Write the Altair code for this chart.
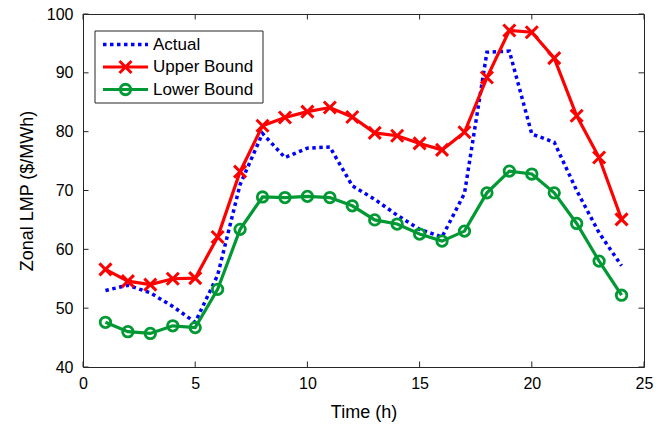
import altair as alt
import pandas as pd

hours = list(range(1, 25))
actual = [53.0, 53.9, 52.6, 50.3, 47.6, 55.6, 71.0, 79.7, 75.6, 77.2, 77.4, 70.8,
          68.5, 65.8, 63.4, 62.1, 69.5, 93.5, 93.7, 79.6, 78.2, 70.0, 62.8, 57.2]
upper = [56.6, 54.6, 54.0, 55.0, 55.1, 62.1, 73.2, 81.0, 82.4, 83.4, 84.1, 82.5,
         79.8, 79.3, 78.0, 76.9, 79.9, 89.2, 97.2, 96.9, 92.5, 82.7, 75.6, 65.1]
lower = [47.6, 46.0, 45.7, 47.0, 46.7, 53.2, 63.4, 68.9, 68.8, 69.0, 68.8, 67.4,
         65.0, 64.3, 62.6, 61.4, 63.1, 69.6, 73.3, 72.8, 69.6, 64.4, 58.0, 52.2]
series_names = ["Actual", "Upper Bound", "Lower Bound"]
series_colors = ["#0000FF", "#FF0000", "#009933"]
x_ticks = [0, 5, 10, 15, 20, 25]
y_ticks = [40, 50, 60, 70, 80, 90, 100]

rows = []
for name, vals in zip(series_names, [actual, upper, lower]):
    for h, v in zip(hours, vals):
        rows.append({"h": h, "value": v, "series": name})
df = pd.DataFrame(rows)

W, H = 561, 353
FONT = "Liberation Sans"
FRAME = "#262626"

xscale = alt.Scale(domain=[0, 25], nice=False, zero=False)
yscale = alt.Scale(domain=[40, 100], nice=False, zero=False)
cscale = alt.Scale(domain=series_names, range=series_colors)

xaxis = alt.Axis(values=x_ticks, title="Time (h)", grid=False, domain=False, ticks=False,
                 tickSize=0, labelPadding=8, titlePadding=12, labelFont=FONT, labelFontSize=16,
                 labelFlush=False, titleFont=FONT, titleFontSize=18, titleFontWeight="normal",
                 labelColor="black", titleColor="black")
yaxis = alt.Axis(values=y_ticks, title="Zonal LMP ($/MWh)", grid=False, domain=False, ticks=False,
                 tickSize=0, labelPadding=10, titlePadding=10, labelFont=FONT, labelFontSize=16,
                 labelFlush=False, titleFont=FONT, titleFontSize=18, titleFontWeight="normal",
                 labelColor="black", titleColor="black")

base = alt.Chart(df)

def line_layer(name, dash=None, width=3.2):
    kw = dict(strokeWidth=width)
    if dash:
        kw["strokeDash"] = dash
        kw["strokeCap"] = "butt"
    return base.transform_filter(alt.datum.series == name).mark_line(**kw).encode(
        x=alt.X("h:Q", scale=xscale, axis=xaxis),
        y=alt.Y("value:Q", scale=yscale, axis=yaxis),
        color=alt.Color("series:N", scale=cscale, legend=None),
    )

X_PATH = "M-1,-1L1,1M-1,1L1,-1"
DOT = [3.5, 3.5]

actual_line = line_layer("Actual", dash=DOT, width=3.5)
upper_line = line_layer("Upper Bound")
upper_pts = base.transform_filter(alt.datum.series == "Upper Bound").mark_point(
    shape=X_PATH, size=144, strokeWidth=3, filled=False, opacity=1).encode(
    x=alt.X("h:Q", scale=xscale), y=alt.Y("value:Q", scale=yscale),
    color=alt.Color("series:N", scale=cscale, legend=None))
lower_line = line_layer("Lower Bound")
lower_pts = base.transform_filter(alt.datum.series == "Lower Bound").mark_point(
    shape="circle", size=110, strokeWidth=2.8, filled=False, opacity=1).encode(
    x=alt.X("h:Q", scale=xscale), y=alt.Y("value:Q", scale=yscale),
    color=alt.Color("series:N", scale=cscale, legend=None))

# inward ticks on all four sides
tick_df_x = pd.DataFrame({"t": x_ticks})
tick_df_y = pd.DataFrame({"t": y_ticks})
TL = 5.5
xt_bottom = alt.Chart(tick_df_x).mark_rule(color=FRAME, strokeWidth=1).encode(
    x=alt.X("t:Q", scale=xscale), y=alt.value(H), y2=alt.value(H - TL))
xt_top = alt.Chart(tick_df_x).mark_rule(color=FRAME, strokeWidth=1).encode(
    x=alt.X("t:Q", scale=xscale), y=alt.value(0), y2=alt.value(TL))
yt_left = alt.Chart(tick_df_y).mark_rule(color=FRAME, strokeWidth=1).encode(
    y=alt.Y("t:Q", scale=yscale), x=alt.value(0), x2=alt.value(TL))
yt_right = alt.Chart(tick_df_y).mark_rule(color=FRAME, strokeWidth=1).encode(
    y=alt.Y("t:Q", scale=yscale), x=alt.value(W), x2=alt.value(W - TL))

# legend box (drawn with marks)
LX0, LX1, LY0, LY1 = 12, 180, 17, 89
ROWS_Y = [30.5, 53, 75.5]
SYM_X0, SYM_X1, SYM_C, TXT_X = 20, 65, 42.5, 70

one = pd.DataFrame({"k": [0]})
leg_box = alt.Chart(one).mark_rect(fill="white", stroke=FRAME, strokeWidth=1).encode(
    x=alt.value(LX0), x2=alt.value(LX1), y=alt.value(LY0), y2=alt.value(LY1))

leg_layers = [leg_box]
for i, (name, col) in enumerate(zip(series_names, series_colors)):
    ldf = pd.DataFrame({"label": [name]})
    kw = dict(color=col, strokeWidth=3.2)
    if name == "Actual":
        kw = dict(color=col, strokeWidth=3.5, strokeDash=DOT, strokeCap="butt")
    leg_layers.append(alt.Chart(ldf).mark_rule(**kw).encode(
        x=alt.value(SYM_X0), x2=alt.value(SYM_X1), y=alt.value(ROWS_Y[i])))
    if name == "Upper Bound":
        leg_layers.append(alt.Chart(ldf).mark_point(
            shape=X_PATH, size=144, strokeWidth=3, filled=False, color=col, opacity=1).encode(
            x=alt.value(SYM_C), y=alt.value(ROWS_Y[i])))
    if name == "Lower Bound":
        leg_layers.append(alt.Chart(ldf).mark_point(
            shape="circle", size=110, strokeWidth=2.8, filled=False, color=col, opacity=1).encode(
            x=alt.value(SYM_C), y=alt.value(ROWS_Y[i])))
    leg_layers.append(alt.Chart(ldf).mark_text(
        align="left", baseline="middle", font=FONT, fontSize=17, color="black").encode(
        text=alt.Text("label:N"), x=alt.value(TXT_X), y=alt.value(ROWS_Y[i])))

chart = alt.layer(
    actual_line, upper_line, upper_pts, lower_line, lower_pts,
    xt_bottom, xt_top, yt_left, yt_right, *leg_layers
).properties(
    width=W, height=H,
    autosize=alt.AutoSizeParams(type="none"),
    padding={"left": 83, "top": 14, "right": 26, "bottom": 57},
).configure_view(
    stroke=FRAME, strokeWidth=1
)

chart.save("out.html", embed_options={"renderer": "svg", "actions": False})
